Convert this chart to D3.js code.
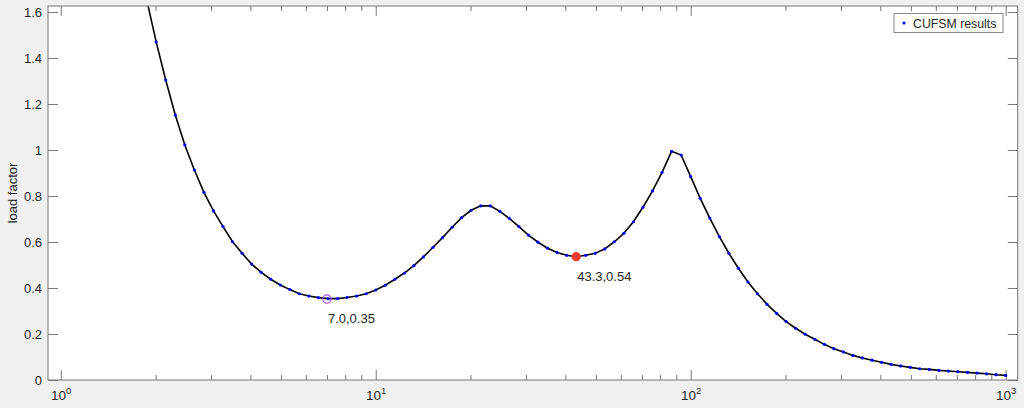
<!DOCTYPE html>
<html>
<head>
<meta charset="utf-8">
<script src="https://cdn.jsdelivr.net/npm/d3@7/dist/d3.min.js"></script>
<style>
  html, body { margin: 0; padding: 0; background: #f0f0f0; }
  #chart { width: 1024px; height: 408px; }
  text { font-family: "Liberation Sans", Arial, Helvetica, sans-serif; fill: #262626; }
</style>
</head>
<body>
<div id="chart"></div>
<script>
// half-wavelengths (log spaced) and the load factor
const halfWavelength = [
  1.874, 2.009, 2.154, 2.310, 2.477, 2.656, 2.848, 3.054, 3.275, 3.511,
  3.765, 4.037, 4.329, 4.642, 4.977, 5.337, 5.722, 6.136, 6.579, 7.055,
  7.565, 8.111, 8.697, 9.326, 10.00, 10.72, 11.50, 12.33, 13.22, 14.17,
  15.20, 16.30, 17.48, 18.74, 20.09, 21.54, 23.10, 24.77, 26.56, 28.48,
  30.54, 32.75, 35.11, 37.65, 40.37, 43.29, 46.42, 49.77, 53.37, 57.22,
  61.36, 65.79, 70.55, 75.65, 81.11, 86.97, 93.26, 100.0, 107.2, 115.0,
  123.3, 132.2, 141.7, 152.0, 163.0, 174.8, 187.4, 200.9, 215.4, 231.0,
  247.7, 265.6, 284.8, 305.4, 327.5, 351.1, 376.5, 403.7, 432.9, 464.2,
  497.7, 533.7, 572.2, 613.6, 657.9, 705.5, 756.5, 811.1, 869.7, 932.6,
  1000
];
const loadFactor = [
  1.654, 1.470, 1.304, 1.152, 1.022, 0.913, 0.816, 0.735, 0.667, 0.601,
  0.551, 0.504, 0.468, 0.438, 0.413, 0.393, 0.375, 0.365, 0.358, 0.354,
  0.354, 0.359, 0.365, 0.375, 0.391, 0.412, 0.438, 0.465, 0.497, 0.535,
  0.577, 0.619, 0.664, 0.706, 0.738, 0.757, 0.757, 0.733, 0.703, 0.667,
  0.630, 0.599, 0.573, 0.554, 0.542, 0.536, 0.542, 0.551, 0.570, 0.601,
  0.638, 0.688, 0.751, 0.822, 0.903, 0.994, 0.978, 0.884, 0.790, 0.704,
  0.623, 0.551, 0.486, 0.426, 0.375, 0.329, 0.290, 0.254, 0.225, 0.199,
  0.177, 0.155, 0.136, 0.122, 0.107, 0.096, 0.086, 0.077, 0.068, 0.061,
  0.055, 0.049, 0.046, 0.042, 0.039, 0.036, 0.033, 0.030, 0.027, 0.023,
  0.020
];

// the two minima marked on the curve
const minLength = [7.0, 43.3];
const minFactor = [0.352, 0.536];
const minLabels = ["7.0,0.35", "43.3,0.54"];

const yTicks = [0, 0.2, 0.4, 0.6, 0.8, 1, 1.2, 1.4, 1.6];
const xMajorTicks = [1, 10, 100, 1000];
const xTickExponents = ["0", "1", "2", "3"];
const xMinorTicks = [2, 3, 4, 5, 6, 7, 8, 9, 20, 30, 40, 50, 60, 70, 80, 90,
  200, 300, 400, 500, 600, 700, 800, 900];

const xDomain = [0.911, 1092];
const yDomain = [0, 1.626];
const legendLabel = "CUFSM results";
const yLabel = "load factor";

// plot box inside the 1024x408 figure
const margin = {top: 6, right: 6.3, bottom: 28, left: 48};
const W = 1024, H = 408;
const width = W - margin.left - margin.right;
const height = H - margin.top - margin.bottom;

const svg = d3.select("#chart").append("svg")
  .attr("width", W).attr("height", H);

const plot = svg.append("g")
  .attr("transform", `translate(${margin.left},${margin.top})`);

const x = d3.scaleLog().domain(xDomain).range([0, width]);
const y = d3.scaleLinear().domain(yDomain).range([height, 0]);

plot.append("rect")
  .attr("width", width).attr("height", height)
  .attr("fill", "#fff");

plot.append("clipPath").attr("id", "clip")
  .append("rect").attr("width", width).attr("height", height);

// ticks point inward on all four sides, MATLAB style
function tickAxis(axisFn, scale, values, size, tr) {
  const g = plot.append("g")
    .attr("transform", tr)
    .call(axisFn(scale).tickValues(values).tickSize(-size).tickFormat(""));
  g.select(".domain").remove();
  g.selectAll("line").attr("stroke", "#777").attr("stroke-width", 1);
  return g;
}

tickAxis(d3.axisBottom, x, xMajorTicks, 10, `translate(0,${height})`);
tickAxis(d3.axisBottom, x, xMinorTicks, 5, `translate(0,${height})`);
tickAxis(d3.axisTop, x, xMajorTicks, 10, "translate(0,0)");
tickAxis(d3.axisTop, x, xMinorTicks, 5, "translate(0,0)");
tickAxis(d3.axisLeft, y, yTicks, 10, "translate(0,0)");
tickAxis(d3.axisRight, y, yTicks, 10, `translate(${width},0)`);

// x tick labels as 10^n
const xl = plot.append("g").selectAll("text")
  .data(xMajorTicks)
  .join("text")
  .attr("x", d => x(d) + 0.5)
  .attr("y", height + 20)
  .attr("text-anchor", "middle")
  .style("font-size", "13.5px");
xl.append("tspan").text("10");
xl.append("tspan")
  .attr("dy", -6)
  .style("font-size", "9.5px")
  .text((d, i) => xTickExponents[i]);

// y tick labels
plot.append("g").selectAll("text")
  .data(yTicks)
  .join("text")
  .attr("x", -6)
  .attr("y", d => y(d))
  .attr("dy", "0.35em")
  .attr("text-anchor", "end")
  .style("font-size", "13px")
  .text(d => d3.format("~g")(d));

svg.append("text")
  .attr("transform", `translate(17,${margin.top + height / 2}) rotate(-90)`)
  .attr("text-anchor", "middle")
  .style("font-size", "13px")
  .text(yLabel);

const pts = halfWavelength.map((d, i) => [d, loadFactor[i]]);

const curve = plot.append("g").attr("clip-path", "url(#clip)");

curve.append("path")
  .datum(pts)
  .attr("fill", "none")
  .attr("stroke", "#000")
  .attr("stroke-width", 1.6)
  .attr("d", d3.line().x(d => x(d[0])).y(d => y(d[1])));

curve.selectAll(".dot")
  .data(pts)
  .join("circle")
  .attr("class", "dot")
  .attr("cx", d => x(d[0]))
  .attr("cy", d => y(d[1]))
  .attr("r", 1.6)
  .attr("fill", "#0000ff");

// minima markers and their labels
plot.selectAll(".minmark")
  .data(minLength)
  .join("circle")
  .attr("class", "minmark")
  .attr("cx", d => x(d))
  .attr("cy", (d, i) => y(minFactor[i]))
  .attr("r", (d, i) => i === 0 ? 4.2 : 4.6)
  .attr("fill", (d, i) => i === 0 ? "none" : "#ec3b2c")
  .attr("stroke", (d, i) => i === 0 ? "#a855f7" : "none")
  .attr("stroke-width", 1.2);

plot.selectAll(".minlabel")
  .data(minLabels)
  .join("text")
  .attr("class", "minlabel")
  .attr("x", (d, i) => x(minLength[i]) + 1)
  .attr("y", (d, i) => y(minFactor[i]) + 24)
  .style("font-size", "13px")
  .text(d => d);

// plot box
plot.append("rect")
  .attr("width", width).attr("height", height)
  .attr("fill", "none")
  .attr("stroke", "#777")
  .attr("stroke-width", 1);

// legend
const lg = svg.append("g").attr("transform", "translate(894,13.5)");
lg.append("rect")
  .attr("width", 109).attr("height", 19)
  .attr("fill", "#fff")
  .attr("stroke", "#888")
  .attr("stroke-width", 1);
lg.append("circle")
  .attr("cx", 10).attr("cy", 9.5).attr("r", 1.6)
  .attr("fill", "#0000ff");
lg.append("text")
  .attr("x", 19).attr("y", 14)
  .style("font-size", "12.3px")
  .text(legendLabel);
</script>
</body>
</html>
